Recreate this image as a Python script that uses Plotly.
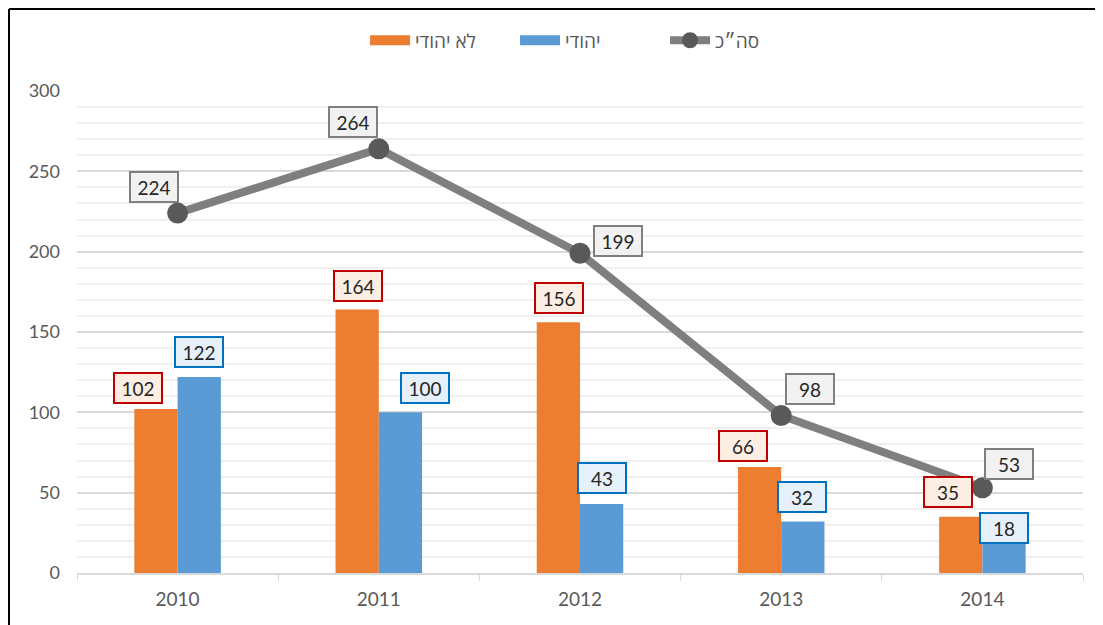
import plotly.graph_objects as go

years = ["2010", "2011", "2012", "2013", "2014"]
non_jewish = [102, 164, 156, 66, 35]
jewish = [122, 100, 43, 32, 18]
total = [224, 264, 199, 98, 53]

name_non_jewish = "לא יהודי"
name_jewish = "יהודי"
name_total = "סה״כ"

# label pixel offsets (style)
nj_shift = [(-40, 21), (-21, 24), (-21, 24), (-38, 21), (-34, 25)]
j_shift = [(21, 25), (46, 24), (22, 26), (21, 25), (22, 16)]
t_shift = [(-24, 26), (-26, 27), (38, 12), (29, 27), (27, 24)]

ORANGE = "#ed7d31"
BLUE = "#5b9bd5"
GRAY_LINE = "#7f7f7f"
GRAY_MARK = "#595959"
TXT = "#595959"
FONT = "Lato, Open Sans, sans-serif"

fig = go.Figure()
fig.add_trace(go.Bar(x=years, y=non_jewish, name=name_non_jewish, showlegend=False,
                     marker=dict(color=ORANGE, line=dict(width=0))))
fig.add_trace(go.Bar(x=years, y=jewish, name=name_jewish, showlegend=False,
                     marker=dict(color=BLUE, line=dict(width=0))))
# legend-only entries with wide swatches
fig.add_trace(go.Scatter(x=[None], y=[None], name=name_non_jewish, mode="lines",
                         line=dict(color=ORANGE, width=12)))
fig.add_trace(go.Scatter(x=[None], y=[None], name=name_jewish, mode="lines",
                         line=dict(color=BLUE, width=12)))
fig.add_trace(go.Scatter(x=years, y=total, name=name_total, mode="lines+markers",
                         line=dict(color=GRAY_LINE, width=8),
                         marker=dict(color=GRAY_MARK, size=21)))

def add_labels(vals, shifts, border, bg):
    for i, (v, (dx, dy)) in enumerate(zip(vals, shifts)):
        fig.add_annotation(x=i, y=v, text=str(v), showarrow=False,
                           xshift=dx, yshift=dy, width=40, height=22,
                           font=dict(family=FONT, size=19, color="#262626"),
                           bgcolor=bg, bordercolor=border, borderwidth=2, borderpad=3)

add_labels(non_jewish, nj_shift, "#c00000", "#fdeee4")
add_labels(jewish, j_shift, "#0070c0", "#e6f0fa")
add_labels(total, t_shift, "#7f7f7f", "#f2f2f2")

# outer frame lines (top and left), along the figure's edges
fig.add_shape(type="line", xref="paper", yref="paper", x0=-0.0676, x1=1.03,
              y0=1.170, y1=1.170, line=dict(color="black", width=2))
fig.add_shape(type="line", xref="paper", yref="paper", x0=-0.0676, x1=-0.0676,
              y0=1.170, y1=-0.13, line=dict(color="black", width=2))

fig.update_layout(
    width=1103, height=625,
    margin=dict(l=69, r=28, t=83, b=60, autoexpand=False),
    paper_bgcolor="white", plot_bgcolor="white",
    barmode="group", bargap=0.57, bargroupgap=0,
    font=dict(family=FONT, size=17, color=TXT),
    showlegend=True,
    legend=dict(orientation="h", x=0.51, xanchor="center", y=1.105, yanchor="middle",
                font=dict(family=FONT, size=19, color=TXT), itemwidth=40,
                entrywidth=95, entrywidthmode="pixels",
                bgcolor="rgba(0,0,0,0)", traceorder="normal"),
    xaxis=dict(type="category", range=[-0.5, 4.5], showline=True, linecolor="#d9d9d9", linewidth=2,
               ticks="outside", tickson="boundaries", ticklen=6, tickcolor="#d9d9d9",
               showgrid=False, tickfont=dict(size=19, color=TXT), ticklabelstandoff=8,
               automargin=False),
    yaxis=dict(range=[0, 300], dtick=50, showgrid=True, gridcolor="#d9d9d9", gridwidth=1.5,
               zeroline=False, showline=False, ticks="", ticklabelstandoff=16,
               tickfont=dict(size=18, color=TXT), automargin=False,
               minor=dict(dtick=10, showgrid=True, gridcolor="#f0f0f0", gridwidth=1.5)),
)

fig.write_html("out.html")
